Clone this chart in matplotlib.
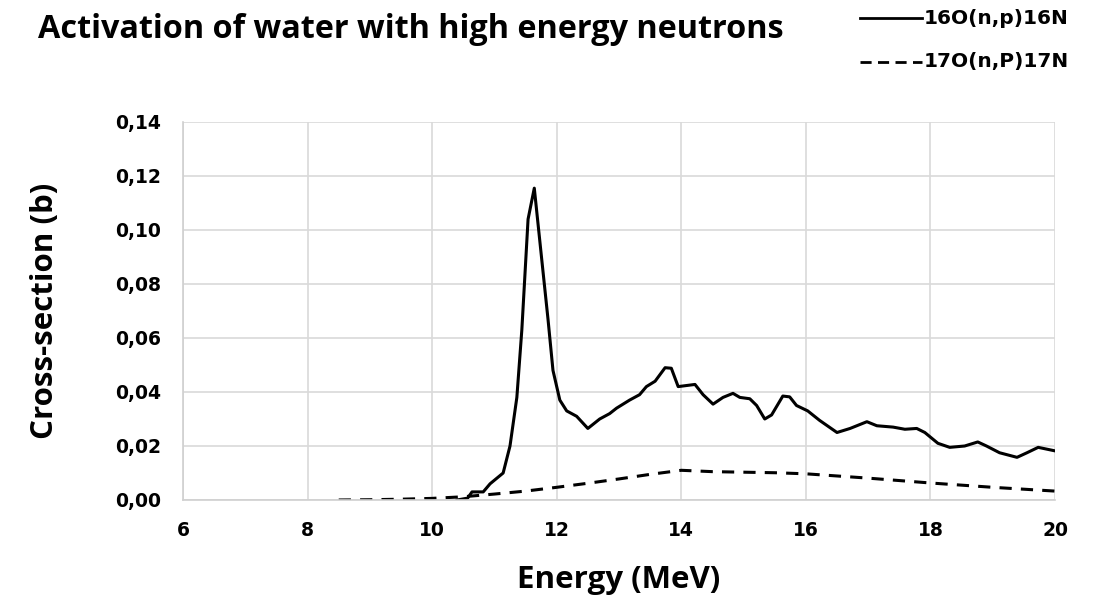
import matplotlib
matplotlib.use("Agg")
import matplotlib.pyplot as plt
from matplotlib.lines import Line2D

plt.rcParams['font.family'] = ['Open Sans', 'DejaVu Sans']

title = "Activation of water with high energy neutrons"
series_names = ["16O(n,p)16N", "17O(n,P)17N"]

e_1 = [10.40, 10.57, 10.64, 10.82, 10.93, 11.14, 11.25, 11.36, 11.44, 11.54, 11.64,
       11.76, 11.86, 11.94, 12.05, 12.16, 12.32, 12.50, 12.69, 12.85, 12.96, 13.17,
       13.33, 13.44, 13.58, 13.74, 13.84, 13.95, 14.22, 14.35, 14.51, 14.67, 14.83,
       14.94, 15.10, 15.21, 15.34, 15.45, 15.63, 15.74, 15.85, 16.03, 16.22, 16.50,
       16.71, 16.98, 17.14, 17.40, 17.59, 17.78, 17.91, 18.12, 18.31, 18.55, 18.76,
       18.90, 19.11, 19.39, 19.55, 19.73, 20.00]
xs_1 = [0.0000, 0.0007, 0.0030, 0.0030, 0.0060, 0.0100, 0.0200, 0.0380, 0.0630, 0.1040, 0.1155,
        0.0890, 0.0670, 0.0480, 0.0370, 0.0330, 0.0310, 0.0265, 0.0300, 0.0320, 0.0340, 0.0370,
        0.0390, 0.0420, 0.0440, 0.0490, 0.0488, 0.0420, 0.0428, 0.0390, 0.0355, 0.0380, 0.0395,
        0.0380, 0.0375, 0.0350, 0.0300, 0.0315, 0.0385, 0.0382, 0.0350, 0.0330, 0.0295, 0.0250,
        0.0265, 0.0290, 0.0275, 0.0270, 0.0262, 0.0265, 0.0250, 0.0210, 0.0195, 0.0200, 0.0215,
        0.0200, 0.0175, 0.0158, 0.0175, 0.0195, 0.0182]

e_2 = [8.5, 9.0, 9.5, 10.0, 10.5, 11.0, 11.5, 12.0, 12.5, 13.0, 13.5, 14.0, 14.5,
       15.0, 15.5, 16.0, 16.5, 17.0, 17.5, 18.0, 18.5, 19.0, 19.5, 20.0]
xs_2 = [0.0000, 0.0001, 0.0003, 0.0006, 0.0012, 0.0022, 0.0033, 0.0047, 0.0062, 0.0078,
        0.0095, 0.0110, 0.0105, 0.0103, 0.0101, 0.0097, 0.0089, 0.0081, 0.0072, 0.0063,
        0.0055, 0.0047, 0.0040, 0.0033]

x_ticks = [6, 8, 10, 12, 14, 16, 18, 20]
y_ticks = [0.00, 0.02, 0.04, 0.06, 0.08, 0.10, 0.12, 0.14]
y_tick_labels = ["0,00", "0,02", "0,04", "0,06", "0,08", "0,10", "0,12", "0,14"]

W, H = 1097, 600
fig = plt.figure(figsize=(W / 100, H / 100), dpi=100)
ax = fig.add_axes([183 / W, 1 - 500 / H, (1055 - 183) / W, (500 - 122) / H])

dash = (0, (4, 3))
ax.plot(e_1, xs_1, color="black", lw=2.2, solid_joinstyle="round")
ax.plot(e_2, xs_2, color="black", lw=2.2, linestyle=dash)

tick_font = dict(family=["DejaVu Sans"], size=13.5, weight="bold")
ax.set_xlim(6, 20)
ax.set_ylim(0, 0.14)
ax.set_xticks(x_ticks)
ax.set_xticklabels([str(t) for t in x_ticks], fontdict=tick_font)
ax.set_yticks(y_ticks)
ax.set_yticklabels(y_tick_labels, fontdict=tick_font)
ax.tick_params(axis="x", length=0, pad=15)
ax.tick_params(axis="y", length=0, pad=16)
ax.grid(True, color="#d9d9d9", lw=1.2)
ax.set_axisbelow(True)
for s in ["top", "right"]:
    ax.spines[s].set_visible(False)
for s in ["left", "bottom"]:
    ax.spines[s].set_color("#d0d0d0")
    ax.spines[s].set_linewidth(1.2)

ax.set_xlabel("Energy (MeV)", fontsize=22.5, fontweight="bold")
ax.set_ylabel("Cross-section (b)", fontsize=22.5, fontweight="bold")
ax.xaxis.set_label_coords((619 - 183) / 872, (500 - 580) / 378)
ax.yaxis.set_label_coords((45 - 183) / 872, 0.5)
ax.xaxis.label.set_va("center")
ax.yaxis.label.set_va("center")

fig.text(38 / W, 1 - 29 / H, title, fontsize=23.3, fontweight="bold", va="center", ha="left")

# legend (top right), placed manually
leg_font = dict(family=["DejaVu Sans"], size=14.5, weight="bold")
leg_styles = ["-", (0, (4, 2.3))]
for i, (name, ls) in enumerate(zip(series_names, leg_styles)):
    yy = 1 - (18 + 44 * i) / H
    fig.add_artist(Line2D([860 / W, 922 / W], [yy, yy], transform=fig.transFigure,
                          color="black", lw=2.0, linestyle=ls))
    fig.text(924 / W, yy, name, va="center", ha="left", fontdict=leg_font)

fig.savefig("out.png", dpi=100)
